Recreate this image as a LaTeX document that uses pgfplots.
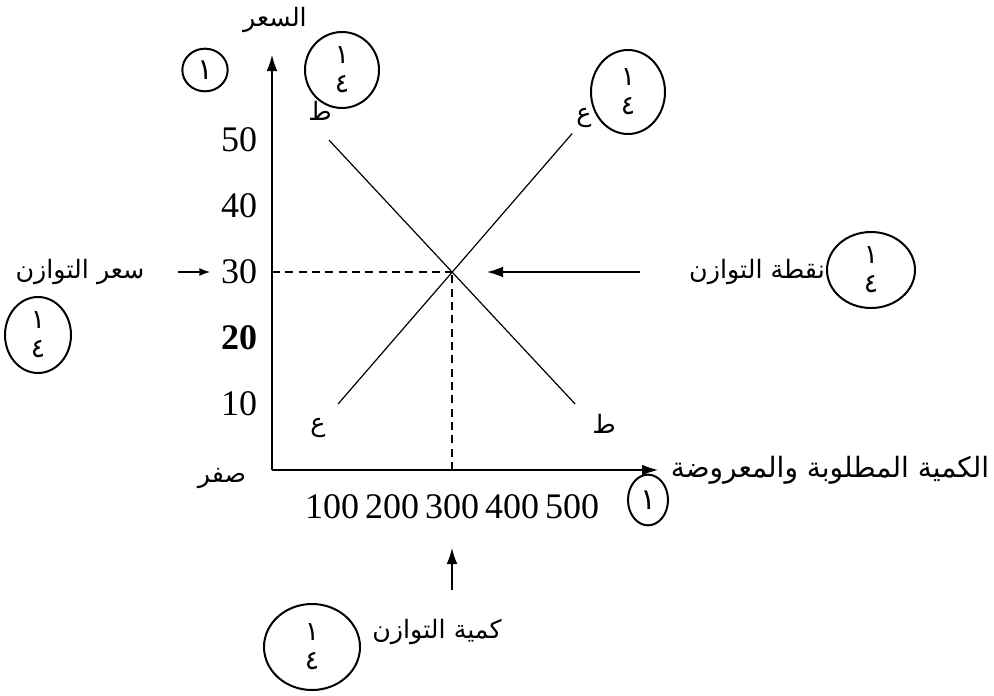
\documentclass[border=0pt]{standalone}
\usepackage{fontspec}
\setmainfont{Liberation Serif}
\newfontfamily\arabicfont[Script=Arabic]{DejaVu Sans}
\TeXXeTstate=1
\usepackage{pgfplots}
\pgfplotsset{compat=1.18}
\usetikzlibrary{arrows.meta}

\newcommand{\ar}[1]{{\arabicfont\beginR #1\endR}}
\newcommand{\gradmark}[4]{% x y rx ry : handwritten 1/4 mark
  \draw[line width=1.5pt] (#1,#2) ellipse [x radius=#3*0.75pt, y radius=#4*0.75pt];
  \node[font=\arabicfont\fontsize{20}{20}\selectfont, inner sep=0pt] at (#1,#2-15) {١};
  \node[font=\arabicfont\fontsize{20}{20}\selectfont, inner sep=0pt] at (#1,#2+14) {٤};}

\begin{document}
\begin{tikzpicture}[x=0.75pt,y=-0.75pt]
\useasboundingbox (0,0) rectangle (994,695);
\begin{axis}[
  at={(204pt,-352.5pt)}, anchor=south west,
  scale only axis, width=289.5pt, height=311.25pt,
  xmin=0, xmax=643, ymin=0, ymax=62.9,
  axis lines=left,
  axis line style={line width=0.9pt, -{Latex[length=12pt,width=8pt]}},
  xtick={100,200,300,400,500}, ytick={10,20,30,40,50},
  yticklabels={10,\textbf{20},30,40,50},
  major tick length=0pt,
  tick label style={font=\fontsize{27}{30}\selectfont, inner sep=0pt},
  xticklabel style={yshift=-18pt},
  yticklabel style={xshift=-11pt},
  /pgf/number format/assume math mode=true,
  clip=false,
]
% supply (ع)
\addplot[line width=0.9pt] coordinates {(110,10) (500,51)};
% demand (ط)
\addplot[line width=0.9pt] coordinates {(95,50) (505,10)};
% equilibrium guides
\addplot[line width=0.9pt, dash pattern=on 6pt off 4pt] coordinates {(0,30) (300,30)};
\addplot[line width=0.9pt, dash pattern=on 6pt off 4pt] coordinates {(300,0) (300,30)};
\end{axis}

\begin{scope}[every node/.style={font=\arabicfont\fontsize{19}{22}\selectfont, inner sep=0pt}]
\node at (275,20) {\ar{السعر}};
\node at (320,111) {\ar{ط}};
\node at (584,118) {\ar{ع}};
\node at (318,428) {\ar{ع}};
\node at (604,424) {\ar{ط}};
\node at (222,478) {\ar{صفر}};
\node[font=\arabicfont\fontsize{21}{24}\selectfont] at (830,470) {\ar{الكمية المطلوبة والمعروضة}};
\node at (80,272) {\ar{سعر التوازن}};
\node at (757,272) {\ar{نقطة التوازن}};
\node at (437,632) {\ar{كمية التوازن}};
\end{scope}

\draw[line width=1pt, -{Latex[length=8pt,width=6pt]}] (178,272) -- (210,272);
\draw[line width=1pt, -{Latex[length=12pt,width=8pt]}] (640,272) -- (487,272);
\draw[line width=1pt, -{Latex[length=12pt,width=8pt]}] (452,590) -- (452,548);

% handwritten grading marks
\draw[line width=1.5pt] (205,70) ellipse [x radius=17pt, y radius=16pt];
\node[font=\arabicfont\fontsize{22}{22}\selectfont, inner sep=0pt] at (205,70) {١};
\draw[line width=1.5pt] (648,500) ellipse [x radius=15pt, y radius=19pt];
\node[font=\arabicfont\fontsize{22}{22}\selectfont, inner sep=0pt] at (648,500) {١};
\gradmark{342}{70}{37}{38}
\gradmark{628}{92}{37}{42}
\gradmark{871}{270}{44}{38}
\gradmark{38}{335}{33}{38}
\gradmark{312}{647}{48}{43}
\end{tikzpicture}
\end{document}
